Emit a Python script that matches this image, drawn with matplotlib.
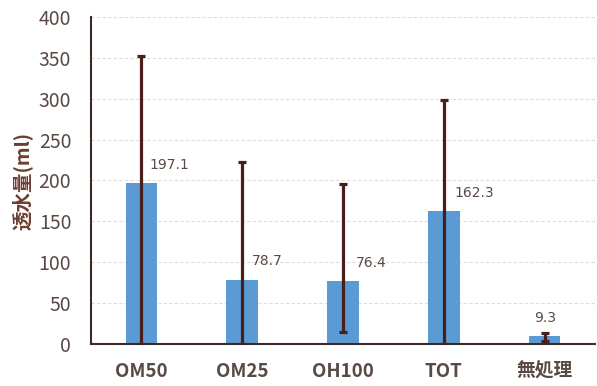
import matplotlib
matplotlib.use("Agg")
import matplotlib.pyplot as plt
import numpy as np

plt.rcParams['font.family'] = ['Noto Sans CJK JP', 'DejaVu Sans']

categories = ['OM50', 'OM25', 'OH100', 'TOT', '無処理']
values = [197.1, 78.7, 76.4, 162.3, 9.3]
err_low = [0, 0, 14, 0, 4]
err_high = [352, 223, 196, 299, 13]
label_shift = [28, 25, 28, 30, 0]

bar_color = '#5b9bd5'
err_color = '#4a1e1a'
axis_color = '#3d2a22'
text_color = '#5a4a44'

fig = plt.figure(figsize=(5.97, 3.86), dpi=100)
ax = fig.add_axes([0.152, 0.109, 0.845, 0.847])

x = np.arange(len(categories))
lower = [v - lo for v, lo in zip(values, err_low)]
upper = [hi - v for v, hi in zip(values, err_high)]
ax.bar(x, values, width=0.31, color=bar_color, zorder=2)
ax.errorbar(x, values, yerr=[lower, upper], fmt='none', ecolor=err_color,
            elinewidth=2.3, capsize=3, capthick=2.3, zorder=3)

for xi, v, dx in zip(x, values, label_shift):
    ax.annotate(f'{v}', (xi, v), xytext=(dx * 0.72, 8), textcoords='offset points',
                ha='center', va='bottom', fontsize=10, color=text_color,
                family=['DejaVu Sans'])

ax.set_xlim(-0.5, len(categories) - 0.5)
ax.set_ylim(0, 400)
ax.set_yticks(range(0, 401, 50))
ax.set_xticks(x)
ax.set_xticklabels(categories, fontsize=13.5, color=text_color, fontweight='bold')
ax.tick_params(axis='y', labelsize=14, labelcolor=text_color, length=0, pad=14)
ax.tick_params(axis='x', length=0, pad=13)

ax.yaxis.grid(True, color='#e0dcd6', linestyle=(0, (3, 2)), linewidth=0.8, zorder=0)
ax.set_axisbelow(True)
for s in ['top', 'right']:
    ax.spines[s].set_visible(False)
ax.spines['left'].set_color(axis_color)
ax.spines['bottom'].set_color(axis_color)
ax.spines['left'].set_linewidth(1.5)
ax.spines['bottom'].set_linewidth(1.5)

ax.set_ylabel('透水量(ml)', fontsize=14, fontweight='bold', color='#6b3f30', labelpad=4)

fig.savefig('out.png', dpi=100)
